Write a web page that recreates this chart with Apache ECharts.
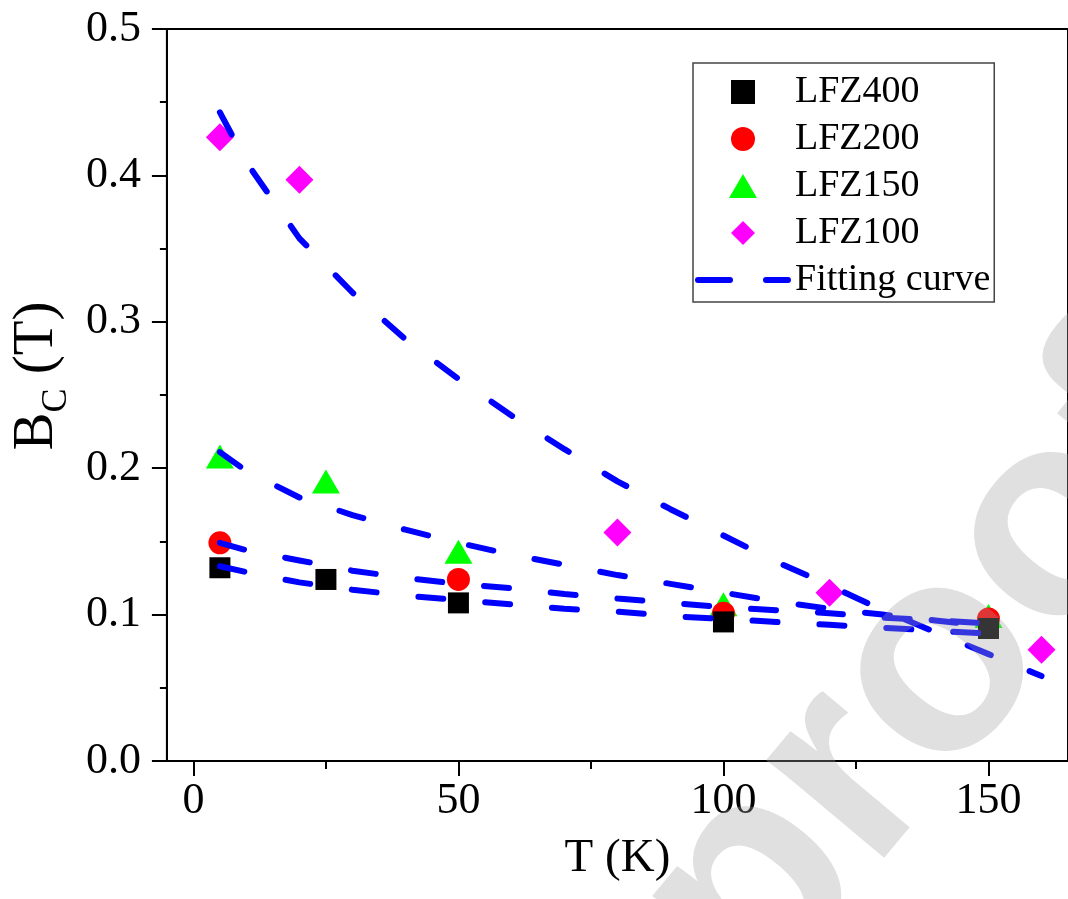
<!DOCTYPE html>
<html>
<head>
<meta charset="utf-8">
<script src="https://cdn.jsdelivr.net/npm/echarts@6/dist/echarts.min.js"></script>
<style>html,body{margin:0;padding:0;background:#fff}#c{width:1068px;height:899px}</style>
</head>
<body>
<div id="c"></div>
<script>
// ---- data ----
const xMajorTicks = [0, 50, 100, 150];
const xMinorTicks = [25, 75, 125];

const tLFZ400 = [5, 25, 50, 100, 150];
const bLFZ400 = [0.132, 0.124, 0.108, 0.095, 0.0905];

const tLFZ200 = [5, 50, 100, 150];
const bLFZ200 = [0.149, 0.124, 0.101, 0.097];

const tLFZ150 = [5, 25, 50, 100, 150];
const bLFZ150 = [0.208, 0.191, 0.143, 0.107, 0.099];

const tLFZ100 = [5, 20, 80, 120, 160];
const bLFZ100 = [0.426, 0.397, 0.156, 0.115, 0.076];

const fitT = [5, 10, 20, 30, 40, 50, 60, 70, 80, 90, 100, 110, 120, 130, 140, 150];
const fitT100 = [5, 10, 20, 30, 40, 50, 60, 70, 80, 90, 100, 110, 120, 130, 140, 150, 160];
const fitLFZ400 = [0.133, 0.129, 0.122, 0.117, 0.113, 0.110, 0.107, 0.104, 0.102, 0.099, 0.097, 0.095, 0.093, 0.091, 0.089, 0.087];
const fitLFZ200 = [0.149, 0.144, 0.137, 0.130, 0.125, 0.121, 0.118, 0.114, 0.111, 0.108, 0.105, 0.103, 0.101, 0.098, 0.096, 0.094];
const fitLFZ150 = [0.211, 0.198, 0.180, 0.168, 0.158, 0.149, 0.141, 0.134, 0.127, 0.121, 0.115, 0.109, 0.104, 0.100, 0.096, 0.092];
const fitLFZ100 = [0.443, 0.409, 0.357, 0.320, 0.288, 0.261, 0.236, 0.213, 0.191, 0.172, 0.154, 0.136, 0.120, 0.103, 0.088, 0.073, 0.058];

const legendNames = ['LFZ400', 'LFZ200', 'LFZ150', 'LFZ100', 'Fitting curve'];
const watermarkText = 'Journal Pre-proof';

const FONT = 'Liberation Serif';
const pair = (xs, ys) => xs.map((x, i) => [x, ys[i]]);

const chart = echarts.init(document.getElementById('c'));

const fitStyle = { color: '#0000ff', width: 6, type: [25, 42], cap: 'round' };
function fitSeries(xs, ys) {
  return {
    name: 'Fitting curve', type: 'line', data: pair(xs, ys), symbol: 'none', smooth: false,
    lineStyle: fitStyle, itemStyle: { color: '#0000ff' }, z: 4, silent: true
  };
}
function scatter(name, xs, ys, symbol, size, color, z) {
  return {
    name, type: 'scatter', data: pair(xs, ys), symbol, symbolSize: size,
    itemStyle: { color, opacity: 1 }, z, silent: true
  };
}

const legendIcons = {
  'LFZ400': 'path://M0,0L21,0L21,21L0,21Z',
  'LFZ200': 'path://M12,0A12,12,0,1,1,12,24A12,12,0,1,1,12,0Z',
  'LFZ150': 'path://M14,0L28,24L0,24Z',
  'LFZ100': 'path://M14,0L28,14L14,28L0,14Z'
};

chart.setOption({
  animation: false,
  backgroundColor: '#fff',
  grid: { left: 163, top: 29, right: -5, bottom: 138, show: true, borderColor: '#000', borderWidth: 2, backgroundColor: 'transparent' },
  legend: {
    orient: 'vertical', left: 693, top: 63,
    data: legendNames.map(n => n === 'Fitting curve'
      ? { name: n, itemStyle: { opacity: 0 } }
      : { name: n, icon: legendIcons[n] }),
    itemWidth: 90, itemHeight: 24, itemGap: 9,
    padding: [10, 4, 3, 2],
    borderColor: '#444', borderWidth: 1.5, backgroundColor: '#fff',
    lineStyle: { width: 6, type: [32, 36], cap: 'round', color: '#0000ff' },
    textStyle: { fontFamily: FONT, fontSize: 38, color: '#000', padding: [0, 0, 0, 2] },
    selectedMode: false
  },
  xAxis: [
    {
      type: 'value', min: -5, max: 165, position: 'bottom',
      axisLine: { show: true, onZero: false, lineStyle: { color: '#000', width: 2 } },
      axisTick: { show: true, customValues: xMajorTicks, length: 15, lineStyle: { color: '#000', width: 2 } },
      axisLabel: { customValues: xMajorTicks, margin: 18, fontFamily: FONT, fontSize: 44, color: '#000' },
      splitLine: { show: false },
      name: 'T (K)', nameLocation: 'middle', nameGap: 74,
      nameTextStyle: { fontFamily: FONT, fontSize: 47, color: '#000' }
    },
    {
      type: 'value', min: -5, max: 165, position: 'bottom',
      axisLine: { show: false, onZero: false },
      axisTick: { show: true, customValues: xMinorTicks, length: 8, lineStyle: { color: '#000', width: 2 } },
      axisLabel: { show: false },
      splitLine: { show: false }
    }
  ],
  yAxis: {
    type: 'value', min: 0, max: 0.5, interval: 0.1,
    axisLine: { show: true, onZero: false, lineStyle: { color: '#000', width: 2 } },
    axisTick: { show: true, length: 15, lineStyle: { color: '#000', width: 2 } },
    minorTick: { show: true, splitNumber: 2, length: 7, lineStyle: { color: '#000', width: 2 } },
    axisLabel: { margin: 26, fontFamily: FONT, fontSize: 44, color: '#000', formatter: v => v.toFixed(1) },
    splitLine: { show: false },
    name: '{b|B}{s|C}{b| (T)}', nameLocation: 'middle', nameGap: 99,
    nameTextStyle: {
      color: '#000', padding: [0, 0, 0, 38],
      rich: {
        b: { fontFamily: FONT, fontSize: 57, color: '#000', lineHeight: 58 },
        s: { fontFamily: FONT, fontSize: 36, color: '#000', lineHeight: 36, verticalAlign: 'top', padding: [31, 0, 0, 0] }
      }
    }
  },
  graphic: [{
    type: 'text', x: 1172, y: 390, rotation: 0.873, z: 100, silent: true,
    style: { text: watermarkText, fontFamily: 'Liberation Sans', fontWeight: 'bold', fontSize: 290, fill: 'rgba(160,160,160,0.33)', align: 'right', verticalAlign: 'middle' }
  }],
  series: [
    scatter('LFZ100', tLFZ100, bLFZ100, 'diamond', 28, '#ff00ff', 2),
    scatter('LFZ150', tLFZ150, bLFZ150, 'triangle', [28, 24], '#00ff00', 2),
    scatter('LFZ200', tLFZ200, bLFZ200, 'circle', 23, '#ff0000', 2),
    scatter('LFZ400', tLFZ400, bLFZ400, 'rect', 21, '#000000', 2),
    fitSeries(fitT, fitLFZ400),
    fitSeries(fitT, fitLFZ200),
    fitSeries(fitT, fitLFZ150),
    fitSeries(fitT100, fitLFZ100)
  ]
});
</script>
</body>
</html>
